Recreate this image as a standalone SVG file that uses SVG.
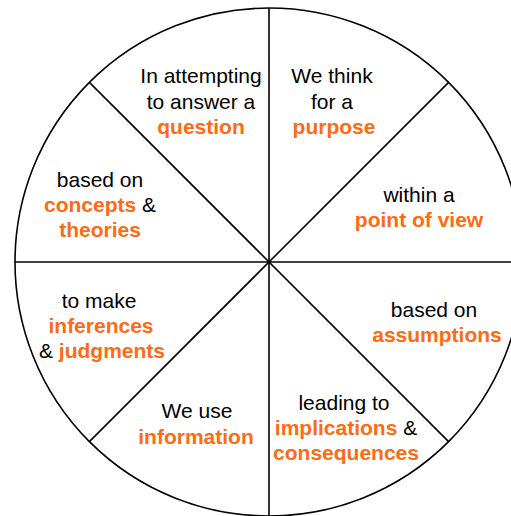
<svg xmlns="http://www.w3.org/2000/svg" width="511" height="516" viewBox="0 0 511 516">
<style>
text{font-family:"Liberation Sans",Arial,sans-serif;font-size:21px;fill:#000;text-anchor:middle}
.k{font-weight:bold;fill:#FF6A13}
.ln{stroke:#000;stroke-width:1.6;fill:none}
</style>
<rect width="511" height="516" fill="#fff"/>
<g id="connectors">
<circle class="ln" cx="269" cy="262" r="254"/>
<line class="ln" x1="269" y1="8" x2="269" y2="516"/>
<line class="ln" x1="15" y1="262" x2="523" y2="262"/>
<line class="ln" x1="89.4" y1="82.4" x2="448.6" y2="441.6"/>
<line class="ln" x1="448.6" y1="82.4" x2="89.4" y2="441.6"/>
</g>
<g id="question"><text x="201" y="83">In attempting</text><text x="201" y="109">to answer a</text><text x="201" y="134" class="k">question</text></g>
<g id="purpose"><text x="332" y="83">We think</text><text x="332" y="109">for a</text><text x="334" y="134" class="k">purpose</text></g>
<g id="pointofview"><text x="419" y="202">within a</text><text x="419" y="227" class="k">point of view</text></g>
<g id="assumptions"><text x="434" y="317">based on</text><text x="437" y="342" class="k">assumptions</text></g>
<g id="implications"><text x="344" y="410">leading to</text><text x="346" y="435"><tspan class="k">implications</tspan> &amp;</text><text x="346" y="460" class="k">consequences</text></g>
<g id="information"><text x="197" y="418">We use</text><text x="196" y="444" class="k">information</text></g>
<g id="inferences"><text x="99" y="308">to make</text><text x="101" y="333" class="k">inferences</text><text x="102" y="358">&amp; <tspan class="k">judgments</tspan></text></g>
<g id="concepts"><text x="100" y="187">based on</text><text x="100" y="212"><tspan class="k">concepts</tspan> &amp;</text><text x="100" y="237" class="k">theories</text></g>
</svg>
